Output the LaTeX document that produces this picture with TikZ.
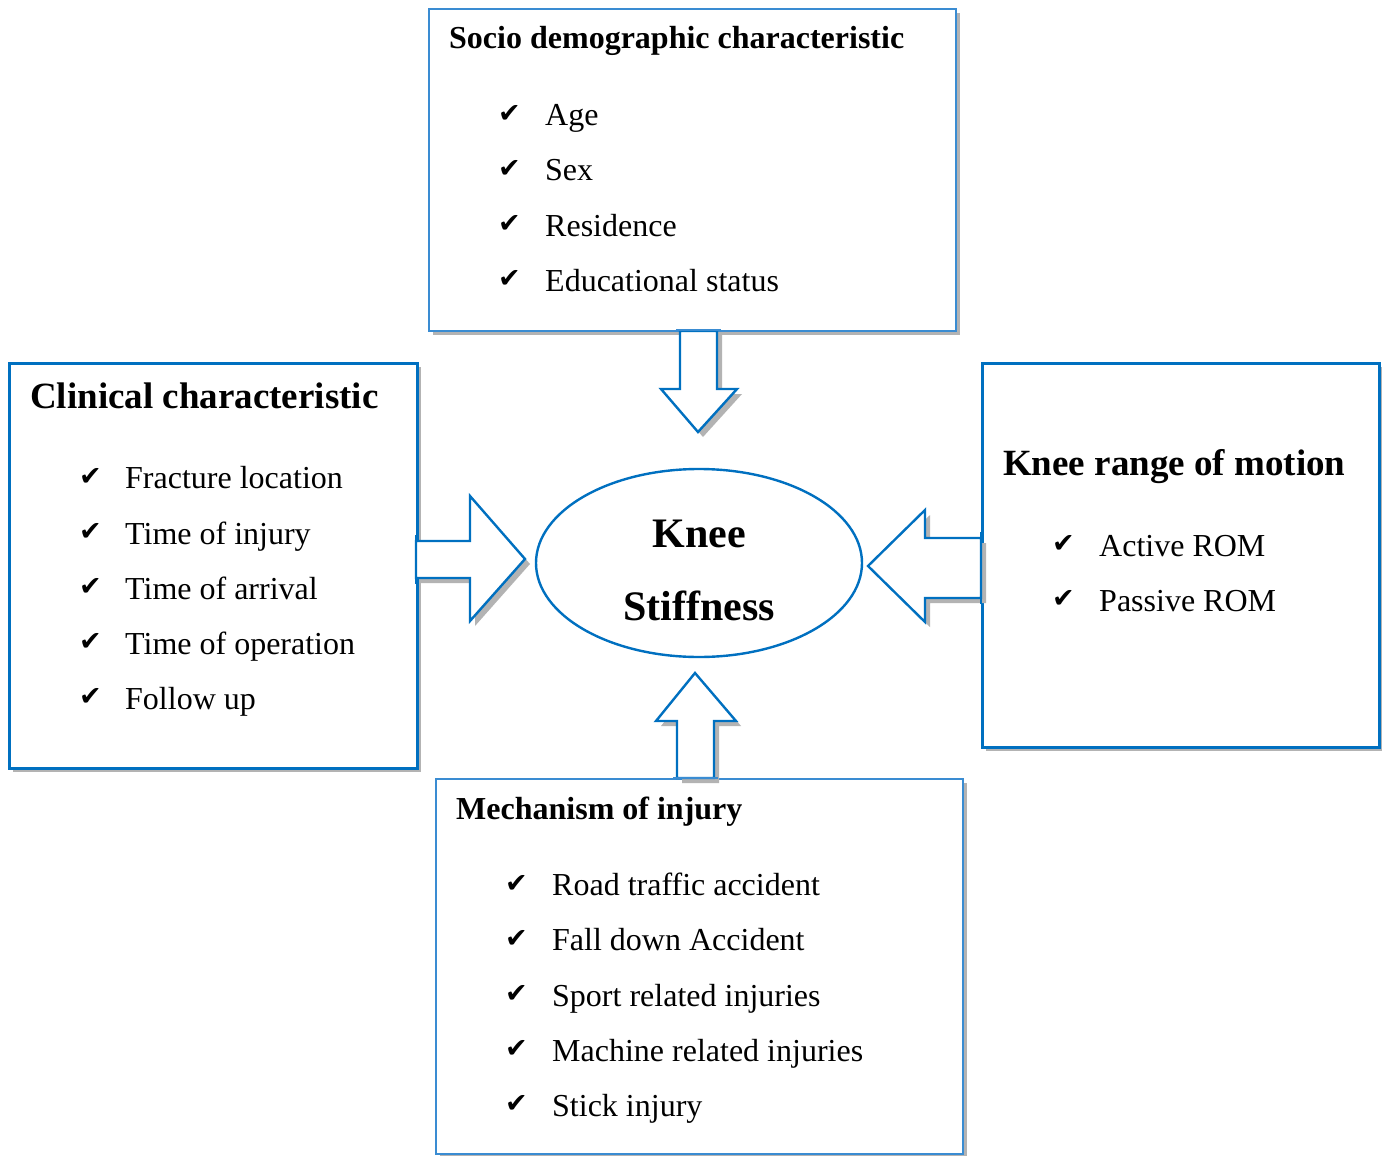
\documentclass[tikz,border=0pt]{standalone}
\usepackage{fontspec}
\usetikzlibrary{shapes.geometric}
\setmainfont{Liberation Serif}
\newfontfamily\symfont{DejaVu Sans}
\definecolor{bdark}{HTML}{0070C0}
\definecolor{blight}{HTML}{3A8CD2}
\definecolor{shad}{HTML}{B3B3B3}
\begin{document}
\begin{tikzpicture}[x=1pt,y=-1pt,
  shadowfill/.style={fill=shad,draw=none},
  boxthin/.style={draw=blight,line width=2.2pt,fill=white},
  boxthick/.style={draw=bdark,line width=2.6pt,fill=white},
  arrowshape/.style={draw=bdark,line width=2.4pt,fill=white,line join=miter},
  ttl/.style={anchor=base west,inner sep=0pt,font=\fontsize{32}{36}\selectfont\bfseries},
  bigttl/.style={anchor=base west,inner sep=0pt,font=\fontsize{37}{42}\selectfont\bfseries},
  item/.style={anchor=base west,inner sep=0pt,font=\fontsize{32}{36}\selectfont},
  chk/.style={anchor=base west,inner sep=0pt,font=\fontsize{27}{30}\symfont}
]
\useasboundingbox (0,0) rectangle (1382,1156);
\fill[white] (0,0) rectangle (1382,1156);

% shadows of boxes
\fill[shadowfill] (433,13) rectangle (960,335);
\fill[shadowfill] (13,367) rectangle (421,772);
\fill[shadowfill] (986,367) rectangle (1383,751);
\fill[shadowfill] (440,783) rectangle (967,1160);

% boxes
\node[boxthin,rectangle,minimum width=527pt,minimum height=322pt,anchor=north west,inner sep=0pt] (top) at (428,8) {};
\node[boxthick,rectangle,minimum width=408pt,minimum height=405pt,anchor=north west,inner sep=0pt] (left) at (8,362) {};
\node[boxthick,rectangle,minimum width=397pt,minimum height=384pt,anchor=north west,inner sep=0pt] (right) at (981,362) {};
\node[boxthin,rectangle,minimum width=527pt,minimum height=375pt,anchor=north west,inner sep=0pt] (bottom) at (435,778) {};

% ellipse
\node[draw=bdark,line width=2.4pt,ellipse,minimum width=326pt,minimum height=188pt,inner sep=0pt,fill=white] (knee) at (699,563) {};
\node[anchor=base,inner sep=0pt,font=\fontsize{42}{48}\selectfont\bfseries] (kneeA) at (699,547) {Knee};
\node[anchor=base,inner sep=0pt,font=\fontsize{42}{48}\selectfont\bfseries] (kneeB) at (699,620) {Stiffness};

% arrow shadows
\begin{scope}[shift={(5,5)}]
\fill[shadowfill] (680,330) -- (717,330) -- (717,389) -- (737,389) -- (698,432) -- (661,389) -- (680,389) -- cycle;
\fill[shadowfill] (416,541) -- (470,541) -- (470,496) -- (525,559) -- (470,621) -- (470,578) -- (416,578) -- cycle;
\fill[shadowfill] (981,538) -- (925,538) -- (925,510) -- (868,566) -- (925,622) -- (925,598) -- (981,598) -- cycle;
\fill[shadowfill] (677,778) -- (677,721) -- (656,721) -- (695,673) -- (736,721) -- (714,721) -- (714,778) -- cycle;
\end{scope}

% arrows
\draw[arrowshape] (680,331) -- (717,331) -- (717,389) -- (737,389) -- (698,432) -- (661,389) -- (680,389) -- cycle;
\draw[arrowshape] (416,541) -- (470,541) -- (470,496) -- (525,559) -- (470,621) -- (470,578) -- (416,578) -- cycle;
\draw[arrowshape] (981,538) -- (925,538) -- (925,510) -- (868,566) -- (925,622) -- (925,598) -- (981,598) -- cycle;
\draw[arrowshape] (677,778) -- (677,721) -- (656,721) -- (695,673) -- (736,721) -- (714,721) -- (714,778) -- cycle;
% restore box borders under arrow bases
\draw[blight,line width=2.2pt] (676,330) -- (721,330);
\draw[bdark,line width=2.6pt] (416,535) -- (416,584);
\draw[bdark,line width=2.6pt] (981,532) -- (981,604);
\draw[blight,line width=2.2pt] (673,778) -- (718,778);

% top box text
\node[ttl] (t0) at (449,49) {Socio demographic characteristic};
\node[chk] (tc1) at (498,122) {✔}; \node[item] (t1) at (545,125) {Age};
\node[chk] (tc2) at (498,177) {✔}; \node[item] (t2) at (545,180) {Sex};
\node[chk] (tc3) at (498,232) {✔}; \node[item] (t3) at (545,236) {Residence};
\node[chk] (tc4) at (498,287) {✔}; \node[item] (t4) at (545,291) {Educational status};

% left box text
\node[bigttl] (l0) at (30,408) {Clinical characteristic};
\node[chk] (lc1) at (79,485) {✔}; \node[item] (l1) at (125,488) {Fracture location};
\node[chk] (lc2) at (79,540) {✔}; \node[item] (l2) at (125,544) {Time of injury};
\node[chk] (lc3) at (79,595) {✔}; \node[item] (l3) at (125,599) {Time of arrival};
\node[chk] (lc4) at (79,650) {✔}; \node[item] (l4) at (125,654) {Time of operation};
\node[chk] (lc5) at (79,705) {✔}; \node[item] (l5) at (125,709) {Follow up};

% right box text
\node[bigttl] (r0) at (1003,475) {Knee range of motion};
\node[chk] (rc1) at (1052,552) {✔}; \node[item] (r1) at (1099,556) {Active ROM};
\node[chk] (rc2) at (1052,607) {✔}; \node[item] (r2) at (1099,611) {Passive ROM};

% bottom box text
\node[ttl] (b0) at (456,819) {Mechanism of injury};
\node[chk] (bc1) at (505,892) {✔}; \node[item] (b1) at (552,895) {Road traffic accident};
\node[chk] (bc2) at (505,947) {✔}; \node[item] (b2) at (552,950) {Fall down Accident};
\node[chk] (bc3) at (505,1002) {✔}; \node[item] (b3) at (552,1006) {Sport related injuries};
\node[chk] (bc4) at (505,1057) {✔}; \node[item] (b4) at (552,1061) {Machine related injuries};
\node[chk] (bc5) at (505,1112) {✔}; \node[item] (b5) at (552,1116) {Stick injury};
\end{tikzpicture}
\end{document}
